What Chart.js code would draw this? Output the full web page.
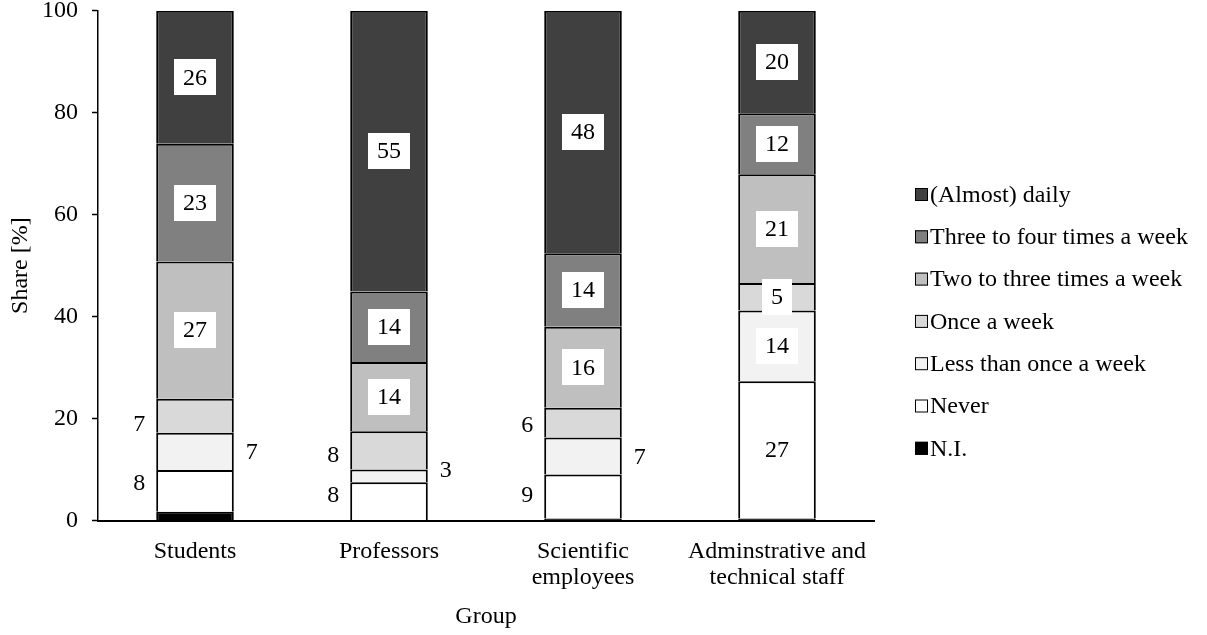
<!DOCTYPE html>
<html>
<head>
<meta charset="utf-8">
<script src="https://cdn.jsdelivr.net/npm/chart.js@4/dist/chart.umd.min.js"></script>
<style>
  html, body { margin: 0; padding: 0; background: #ffffff; }
  #wrap { width: 1207px; height: 635px; position: relative; }
</style>
</head>
<body>
<div id="wrap"><canvas id="chart" width="1207" height="635"></canvas></div>
<script>
// Groups on the x axis (multi-line labels as arrays)
const groups = [['Students'], ['Professors'], ['Scientific', 'employees'], ['Adminstrative and', 'technical staff']];

// Shares in percent per group, stacked bottom to top
const niValues        = [1.7, 0.0, 0.4, 0.4];
const neverValues     = [8.2, 7.5, 8.6, 26.9];
const lessValues      = [7.3, 2.5, 7.3, 13.9];
const onceValues      = [6.7, 7.5, 5.8, 5.4];
const twoThreeValues  = [26.9, 13.6, 15.9, 21.3];
const threeFourValues = [23.1, 13.8, 14.4, 12.0];
const dailyValues     = [26.1, 55.1, 47.6, 20.1];

const seriesNames = ['N.I.', 'Never', 'Less than once a week', 'Once a week',
                     'Two to three times a week', 'Three to four times a week', '(Almost) daily'];
const seriesValues = [niValues, neverValues, lessValues, onceValues, twoThreeValues, threeFourValues, dailyValues];
const yTicks = [0, 20, 40, 60, 80, 100];

// Fill colours per series (same order as seriesNames)
const fills = ['#000000', '#ffffff', '#f2f2f2', '#d9d9d9', '#bfbfbf', '#808080', '#404040'];

// Where each value label goes: 'in' = boxed inside the segment, 'left'/'right' = beside the bar,
// null = no label; second item nudges the label vertically (px)
const labelSpots = [
  [null, null, null, null],
  [['left', -8], ['left', -6], ['left', -2], ['in', 0]],
  [['right', 0], ['right', -6], ['right', 1], ['in', 0]],
  [['left', 8], ['left', 4], ['left', 2], ['in', 0]],
  [['in', 0], ['in', 0], ['in', 0], ['in', 0]],
  [['in', 0], ['in', 0], ['in', 0], ['in', 0]],
  [['in', 0], ['in', 0], ['in', 0], ['in', 0]]
];

const FONT = '"Liberation Serif", "Times New Roman", serif';
const FS = 24;

const datasets = seriesNames.map((name, i) => ({
  label: name,
  data: seriesValues[i],
  backgroundColor: fills[i],
  borderColor: '#000000',
  borderWidth: 2,
  borderSkipped: 'start',
  categoryPercentage: 0.8,
  barPercentage: 0.5
}));

// Value labels: white boxes inside segments, plain numbers beside the bar
const valueLabels = {
  id: 'valueLabels',
  afterDatasetsDraw(chart) {
    const ctx = chart.ctx;
    ctx.save();
    ctx.font = FS + 'px ' + FONT;
    ctx.textAlign = 'center';
    ctx.textBaseline = 'middle';
    chart.data.datasets.forEach((ds, i) => {
      const meta = chart.getDatasetMeta(i);
      meta.data.forEach((bar, j) => {
        const spot = labelSpots[i][j];
        if (!spot) return;
        const txt = String(Math.round(ds.data[j]));
        const cy = (bar.y + bar.base) / 2 + spot[1];
        const half = bar.width / 2;
        if (spot[0] === 'in') {
          const w = ctx.measureText(txt).width + 18;
          const h = 36;
          ctx.fillStyle = '#ffffff';
          ctx.fillRect(Math.round(bar.x - w / 2), Math.round(cy - h / 2), Math.round(w), h);
          ctx.fillStyle = '#000000';
          ctx.fillText(txt, bar.x, cy + 1);
        } else {
          const x = spot[0] === 'left' ? bar.x - half - 17 : bar.x + half + 18;
          ctx.fillStyle = '#000000';
          ctx.fillText(txt, x, cy + 1);
        }
      });
    });
    ctx.restore();
  }
};

// Legend on the right, listed top series first
const sideLegend = {
  id: 'sideLegend',
  afterDraw(chart) {
    const ctx = chart.ctx;
    const area = chart.chartArea;
    const x0 = area.right + 41;
    const y0 = 194.5;
    const step = 42.3;
    ctx.save();
    ctx.font = FS + 'px ' + FONT;
    ctx.textAlign = 'left';
    ctx.textBaseline = 'middle';
    for (let k = 0; k < seriesNames.length; k++) {
      const idx = seriesNames.length - 1 - k;
      const cy = y0 + k * step;
      ctx.fillStyle = fills[idx];
      ctx.fillRect(x0, cy - 6.5, 13, 13);
      ctx.strokeStyle = '#000000';
      ctx.lineWidth = 1;
      ctx.strokeRect(x0 + 0.5, cy - 6, 12, 12);
      ctx.fillStyle = '#000000';
      ctx.fillText(seriesNames[idx], x0 + 15, cy + 1);
    }
    ctx.restore();
  }
};

new Chart(document.getElementById('chart'), {
  type: 'bar',
  data: { labels: groups, datasets },
  options: {
    responsive: false,
    animation: false,
    devicePixelRatio: 1,
    layout: { padding: { left: 0, right: 333, top: 10.7, bottom: 0 } },
    plugins: {
      legend: { display: false },
      tooltip: { enabled: false }
    },
    scales: {
      x: {
        stacked: true,
        grid: { display: false, drawTicks: false },
        border: { display: true, color: '#000000', width: 2 },
        ticks: {
          color: '#000000',
          font: { family: FONT, size: FS, lineHeight: 1.1 },
          padding: 18,
          maxRotation: 0
        },
        title: {
          display: true,
          text: 'Group',
          color: '#000000',
          font: { family: FONT, size: FS, lineHeight: 1.2 },
          padding: { top: 0, bottom: 4 }
        },
        afterFit(scale) {
          scale.height = 114.5;
          scale.paddingLeft = 0;
          scale.paddingRight = 0;
        }
      },
      y: {
        stacked: true,
        min: 0,
        max: 100,
        afterBuildTicks(scale) {
          scale.ticks = yTicks.map(v => ({ value: v }));
        },
        grid: {
          drawOnChartArea: false,
          drawTicks: true,
          tickLength: 6,
          tickWidth: 1.5,
          tickColor: '#000000'
        },
        border: { display: true, color: '#000000', width: 1.5 },
        ticks: {
          color: '#000000',
          font: { family: FONT, size: FS, lineHeight: 1 },
          padding: 14
        },
        title: {
          display: true,
          text: 'Share [%]',
          color: '#000000',
          font: { family: FONT, size: FS, lineHeight: 1.2 },
          padding: { top: 6, bottom: 0 }
        },
        afterFit(scale) {
          scale.width = 98;
          scale.paddingTop = 0;
          scale.paddingBottom = 0;
        }
      }
    }
  },
  plugins: [valueLabels, sideLegend]
});
</script>
</body>
</html>
